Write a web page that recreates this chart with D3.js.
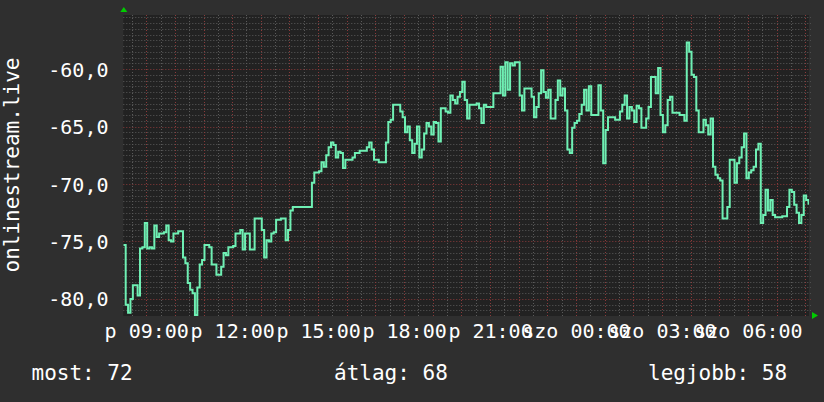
<!DOCTYPE html>
<html><head><meta charset="utf-8">
<script src="https://cdn.jsdelivr.net/npm/d3@7"></script>
<style>html,body{margin:0;padding:0;background:#2f2f2f;} svg{display:block}</style>
</head><body>
<svg id="c" width="824" height="402"></svg>
<script>
// ---- data ----
const startTime = new Date(2024, 0, 5, 8, 12);   // Friday (péntek) 08:12
const endTime = new Date(2024, 0, 6, 8, 8);      // Saturday (szombat) 08:08
const stepMinutes = 5;
const values = [
 -75.3,-80.5,-81.2,-80.0,-78.8,-78.8,-79.7,-75.6,-75.5,-73.4,-75.6,-75.5,
 -75.6,-73.6,-74.6,-74.3,-74.3,-74.2,-73.6,-74.9,-75.0,-74.3,-74.3,-74.1,
 -74.1,-76.4,-76.9,-78.6,-79.2,-79.5,-81.4,-79.0,-77.0,-76.6,-75.3,-75.3,
 -75.5,-77.0,-77.0,-77.9,-77.9,-77.2,-76.0,-76.2,-75.5,-75.5,-75.4,-74.3,
 -74.3,-74.0,-75.7,-74.3,-74.3,-75.7,-75.7,-73.0,-73.0,-73.0,-74.0,-76.4,
 -74.9,-75.0,-74.3,-74.2,-73.1,-73.1,-73.0,-73.0,-74.9,-74.0,-72.3,-72.0,
 -72.0,-72.0,-72.0,-72.0,-72.0,-72.0,-72.0,-69.9,-69.0,-69.0,-68.9,-68.1,
 -68.5,-67.5,-66.8,-66.4,-66.6,-67.7,-67.2,-67.3,-68.6,-67.9,-67.9,-67.9,
 -67.7,-67.3,-67.3,-67.1,-67.1,-67.1,-66.8,-66.4,-67.0,-67.9,-67.9,-68.1,
 -68.1,-68.1,-66.4,-64.6,-64.4,-63.1,-63.1,-63.1,-63.7,-64.2,-65.5,-65.0,
 -66.2,-67.3,-66.5,-65.0,-67.7,-67.0,-65.6,-64.7,-65.0,-65.7,-64.6,-64.7,
 -66.3,-63.4,-63.4,-63.7,-63.8,-62.3,-62.7,-63.0,-62.4,-62.0,-61.1,-62.7,
 -64.3,-63.1,-63.1,-63.1,-63.0,-63.4,-64.7,-63.1,-63.3,-63.3,-63.3,-62.1,
 -62.1,-62.1,-59.8,-62.3,-59.4,-61.8,-59.5,-59.7,-59.4,-59.4,-62.3,-63.6,
 -61.7,-61.7,-61.7,-62.4,-64.2,-63.3,-62.1,-60.1,-62.0,-62.5,-61.8,-64.3,
 -64.3,-62.7,-61.0,-62.3,-61.7,-63.6,-67.0,-67.3,-65.1,-64.7,-64.5,-63.9,
 -63.1,-61.8,-63.6,-61.5,-64.0,-64.0,-64.0,-61.4,-63.6,-68.2,-65.3,-64.2,
 -64.2,-64.2,-64.4,-64.4,-63.7,-63.1,-62.3,-64.3,-63.3,-63.6,-64.6,-63.2,
 -63.4,-65.1,-65.1,-64.3,-63.3,-60.7,-60.7,-62.1,-59.9,-64.0,-65.5,-64.9,
 -62.7,-62.4,-63.8,-63.8,-63.8,-64.0,-64.0,-64.5,-57.7,-58.5,-60.5,-60.7,
 -63.6,-65.5,-65.5,-64.4,-64.9,-65.7,-64.3,-68.5,-69.2,-69.5,-69.7,-73.0,
 -73.0,-72.0,-67.9,-67.9,-69.9,-68.2,-67.7,-66.8,-65.6,-69.5,-69.0,-68.8,
 -68.5,-67.0,-66.5,-73.4,-72.7,-70.5,-72.3,-71.4,-72.7,-72.9,-72.9,-72.9,
 -72.8,-72.8,-72.0,-70.5,-70.7,-71.8,-72.5,-73.4,-72.7,-71.0,-71.4,-71.8
];
const yDomain = [-81.48, -55.3];
const yMajorTicks = [-80, -75, -70, -65, -60];
const dayAbbr = ["v", "h", "k", "sze", "cs", "p", "szo"];
const axisTitle = "onlinestream.live";
const legendLabels = ["most", "átlag", "legjobb"];
const legendValues = [72, 68, 58];

// ---- layout ----
const L = 123.3, R = 809, T = 15, B = 316;
const svg = d3.select("#c");
const mono = "'DejaVu Sans Mono', monospace";

svg.append("rect").attr("width", 824).attr("height", 402).attr("fill", "#2f2f2f");
svg.append("rect").attr("x", L).attr("y", T).attr("width", R - L).attr("height", B - T).attr("fill", "#222222");

const x = d3.scaleTime().domain([startTime, endTime]).range([L, R]);
const y = d3.scaleLinear().domain(yDomain).range([B, T]);

const data = values.map((v, i) => ({t: d3.timeMinute.offset(startTime, i * stepMinutes), v}));

// grid
const g = svg.append("g");
const minorY = d3.range(Math.ceil(yDomain[0] * 2) / 2, yDomain[1], 0.5).filter(v => Math.abs(v % 5) > 1e-6);
g.selectAll(".hmin").data(minorY).join("line")
  .attr("x1", L).attr("x2", R + 2).attr("y1", d => Math.round(y(d)) + 0.5).attr("y2", d => Math.round(y(d)) + 0.5)
  .attr("stroke", "#5a5a5a").attr("stroke-width", 1).attr("stroke-dasharray", "1,2");
const minorX = d3.timeMinute.every(30).range(startTime, endTime).filter(d => d.getMinutes() !== 0);
g.selectAll(".vmin").data(minorX).join("line")
  .attr("x1", d => Math.round(x(d)) + 0.5).attr("x2", d => Math.round(x(d)) + 0.5).attr("y1", T).attr("y2", B)
  .attr("stroke", "#5a5a5a").attr("stroke-width", 1).attr("stroke-dasharray", "1,2");
const majorX = d3.timeHour.every(1).range(startTime, endTime);
g.selectAll(".vmaj").data(majorX).join("line")
  .attr("x1", d => Math.round(x(d)) + 0.5).attr("x2", d => Math.round(x(d)) + 0.5).attr("y1", T).attr("y2", B)
  .attr("stroke", "#8a3a3a").attr("stroke-width", 1).attr("stroke-dasharray", "1,2");
g.selectAll(".hmaj").data(yMajorTicks).join("line")
  .attr("x1", L).attr("x2", R + 2).attr("y1", d => Math.round(y(d)) + 0.5).attr("y2", d => Math.round(y(d)) + 0.5)
  .attr("stroke", "#8a3a3a").attr("stroke-width", 1).attr("stroke-dasharray", "1,2");

// line
svg.append("clipPath").attr("id", "clip").append("rect").attr("x", L).attr("y", T).attr("width", R - L).attr("height", B - T);
const line = d3.line().curve(d3.curveStepAfter).x(d => x(d.t)).y(d => y(d.v));
svg.append("path").datum(data).attr("d", line).attr("fill", "none")
  .attr("stroke", "#6ff0b4").attr("stroke-width", 2).attr("stroke-linejoin", "miter")
  .attr("clip-path", "url(#clip)");

// y axis labels
const loc = d3.formatLocale({decimal: ",", thousands: " ", grouping: [3], currency: ["", ""], minus: "-"});
const fmtY = loc.format(".1f");
const yAxis = d3.axisLeft(y).tickValues(yMajorTicks).tickFormat(fmtY).tickSize(0).tickPadding(0);
const ya = svg.append("g").attr("transform", `translate(108.5,0)`).call(yAxis);
ya.select(".domain").remove();
ya.selectAll("text").attr("fill", "#ffffff").attr("font-family", mono).attr("font-size", 20)
  .attr("dy", null).attr("dominant-baseline", "central").attr("text-anchor", "end");

// x axis labels (they overlap in the original, too)
const hm = d3.timeFormat("%H:%M");
const xAxis = d3.axisBottom(x).ticks(d3.timeHour.every(3))
  .tickFormat(d => dayAbbr[d.getDay()] + " " + hm(d)).tickSize(0).tickPadding(0);
const xa = svg.append("g").call(xAxis);
xa.select(".domain").remove();
xa.selectAll("text").attr("fill", "#ffffff").attr("font-family", mono).attr("font-size", 20)
  .attr("y", 338).attr("dy", null).attr("text-anchor", "middle");

// axis title
svg.append("text").attr("transform", "translate(18.5,165) rotate(-90)")
  .attr("text-anchor", "middle").attr("fill", "#ffffff").attr("font-family", mono).attr("font-size", 21)
  .text(axisTitle);

// arrows
svg.append("path").attr("d", `M${L - 3},${T - 3} L${L + 4},${T - 3} L${L + 0.5},${T - 8} Z`).attr("fill", "#00cc00");
svg.append("path").attr("d", `M${R + 3},${B - 4} L${R + 3},${B + 3} L${R + 9},${B - 0.5} Z`).attr("fill", "#00cc00");

// legend
const legendX = [31.5, 334, 648];
svg.selectAll(".leg").data(legendLabels).join("text")
  .attr("x", (d, i) => legendX[i]).attr("y", 380)
  .attr("fill", "#ffffff").attr("font-family", mono).attr("font-size", 21)
  .text((d, i) => d + ": " + legendValues[i]);
</script>
</body></html>
